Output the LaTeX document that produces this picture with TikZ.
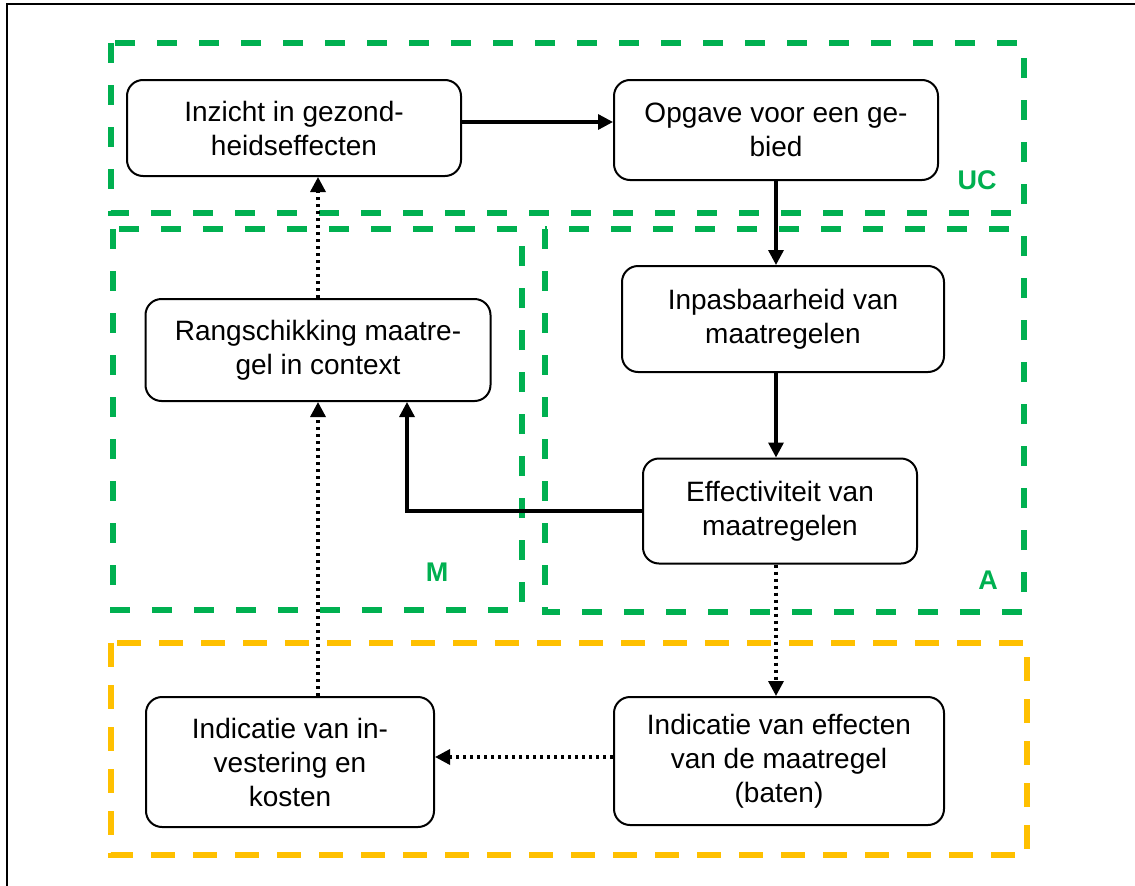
\documentclass[tikz,border=0pt]{standalone}
\usepackage{fontspec}
\setmainfont{Liberation Sans}
\usetikzlibrary{arrows.meta}
\definecolor{grn}{HTML}{00B050}
\definecolor{ylw}{HTML}{FFC000}
\tikzset{
  box/.style={draw, rounded corners=16pt, line width=2pt, align=center, inner sep=0pt,
    font=\fontsize{28}{34}\selectfont},
  grp/.style={draw=grn, line width=5.5pt, dash pattern=on 20pt off 22pt},
  ygrp/.style={draw=ylw, line width=5.5pt, dash pattern=on 24pt off 18pt},
  lbl/.style={text=grn, font=\fontsize{27}{30}\selectfont\bfseries, inner sep=0pt},
  conn/.style={line width=3.3pt, -{Triangle[length=15pt,width=15pt]}},
  dconn/.style={conn, dash pattern=on 3.5pt off 3.5pt},
  frame/.style={line width=1.8pt}
}
\begin{document}
\begin{tikzpicture}[x=1pt,y=-1pt]
\useasboundingbox (0,0) rectangle (1135,886);
% frame
\coordinate (fl) at (7,886);
\coordinate (fc) at (7,4);
\coordinate (fr) at (1135,4);
\draw[frame] (fl) -- (fc) -- (fr);
% groups
\draw[grp] (111,43) rectangle (1024,213);
\draw[grp] (113,229) rectangle (522,610);
\draw[grp] (545,229) rectangle (1024,612);
\draw[ygrp] (111,643) rectangle (1027,855);
\node[lbl] (uc) at (977,180) {UC};
\node[lbl] (m) at (437,572) {M};
\node[lbl] (a) at (988,580) {A};
% nodes
\node[box, minimum width=334pt, minimum height=96pt] (inz) at (294,128) {Inzicht in gezond-\\heidseffecten};
\node[box, minimum width=324pt, minimum height=100pt] (opg) at (776,130) {Opgave voor een ge-\\bied};
\node[box, minimum width=322pt, minimum height=106pt] (inp) at (783,319) {Inpasbaarheid van\\maatregelen};
\node[box, minimum width=345pt, minimum height=102pt] (rang) at (318,350) {Rangschikking maatre-\\gel in context};
\node[box, minimum width=274pt, minimum height=105pt] (eff) at (780,511) {Effectiviteit van\\maatregelen};
\node[box, minimum width=330pt, minimum height=128pt] (ie) at (779,761) {Indicatie van effecten\\van de maatregel\\(baten)};
\node[box, minimum width=288pt, minimum height=130pt] (ii) at (290,762) {Indicatie van in-\\vestering en\\kosten};
% connectors
\draw[conn] ([yshift=6pt]inz.east) -- ([yshift=6pt]inz.east -| opg.west);
\draw[conn] (opg.south) -- (opg.south |- inp.north);
\draw[conn] (opg.south |- inp.south) -- (opg.south |- eff.north);
\draw[conn] (eff.west) -| ([xshift=89pt]rang.south);
\draw[dconn] (opg.south |- eff.south) -- (opg.south |- ie.north);
\draw[dconn] ([yshift=4pt]ie.west) -- ([yshift=4pt]ie.west -| ii.east);
\draw[dconn] (rang.south |- ii.north) -- (rang.south);
\draw[dconn] (rang.north) -- (rang.north |- inz.south);
\end{tikzpicture}
\end{document}
